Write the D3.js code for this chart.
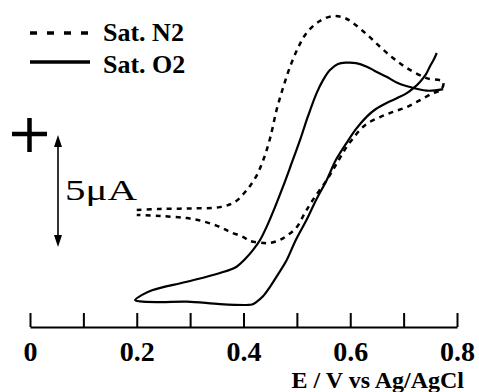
<!DOCTYPE html>
<html>
<head>
<meta charset="utf-8">
<script src="https://cdn.jsdelivr.net/npm/d3@7"></script>
<style>
  body { margin: 0; background: #fff; }
  svg { display: block; }
</style>
</head>
<body>
<svg id="cv" width="479" height="392"></svg>
<script>
// potential (V vs Ag/AgCl) and current (uA, arbitrary offset)
var n2E = [0.2, 0.244, 0.30, 0.356, 0.384, 0.406, 0.423, 0.437, 0.45, 0.462, 0.474, 0.487, 0.502, 0.518, 0.543, 0.568, 0.59, 0.605, 0.63, 0.656, 0.68, 0.706, 0.743, 0.774,
           0.77, 0.755, 0.731, 0.706, 0.68, 0.656, 0.633, 0.618, 0.603, 0.593, 0.573, 0.556, 0.53, 0.515, 0.5, 0.483, 0.468, 0.45, 0.437, 0.412, 0.399, 0.375, 0.356, 0.328, 0.294, 0.244, 0.2];
var n2I = [4.91, 4.96, 4.98, 5.04, 5.27, 5.80, 6.38, 7.14, 8.13, 9.38, 10.36, 11.29, 12.14, 12.81, 13.35, 13.57, 13.48, 13.26, 12.77, 12.19, 11.70, 11.25, 10.80, 10.63,
           10.27, 10.13, 9.82, 9.51, 9.29, 9.06, 8.79, 8.48, 8.04, 7.72, 6.92, 6.25, 5.36, 4.78, 4.15, 3.79, 3.57, 3.44, 3.44, 3.53, 3.71, 3.93, 4.15, 4.38, 4.55, 4.64, 4.69];

var o2E = [0.774, 0.759, 0.743, 0.712, 0.689, 0.668, 0.646, 0.631, 0.611, 0.593, 0.577, 0.562, 0.549, 0.537, 0.521, 0.506, 0.489, 0.474, 0.459, 0.4435, 0.431, 0.418, 0.403, 0.387, 0.356, 0.294, 0.23, 0.21, 0.197,
           0.206, 0.244, 0.294, 0.356, 0.406, 0.416, 0.425, 0.437, 0.45, 0.465, 0.481, 0.498, 0.518, 0.536, 0.556, 0.573, 0.593, 0.611, 0.631, 0.648, 0.668, 0.688, 0.706, 0.719, 0.731, 0.742, 0.749, 0.757, 0.762];
var o2I = [10.31, 10.25, 10.24, 10.40, 10.58, 10.86, 11.12, 11.31, 11.47, 11.49, 11.43, 11.16, 10.71, 10.13, 9.11, 8.04, 6.92, 5.95, 5.04, 4.17, 3.57, 3.13, 2.72, 2.38, 2.10, 1.71, 1.34, 1.12, 0.89,
           0.83, 0.80, 0.82, 0.71, 0.67, 0.69, 0.82, 1.07, 1.49, 2.05, 2.68, 3.57, 4.46, 5.36, 6.25, 7.14, 7.90, 8.53, 9.08, 9.42, 9.69, 9.91, 10.13, 10.36, 10.64, 10.98, 11.31, 11.65, 11.92];

var xTicks = [0, 0.1, 0.2, 0.3, 0.4, 0.5, 0.6, 0.7, 0.8];
var xTickLabels = ["0", "", "0.2", "", "0.4", "", "0.6", "", "0.8"];
var legendLabels = ["Sat. N2", "Sat. O2"];
var scaleBarTop = 8.26, scaleBarSize = 5;   // uA

var svg = d3.select("#cv");
var serif = "'Liberation Serif', 'DejaVu Serif', serif";

var x = d3.scaleLinear().domain([0, 0.8]).range([30, 457]);
var y = d3.scaleLinear().domain([0, 14]).range([320, 6.4]);

// x axis, ticks pointing up
var axis = svg.append("g")
    .attr("transform", "translate(0,327)")
    .call(d3.axisBottom(x).tickValues(xTicks)
      .tickFormat(function(d, i) { return xTickLabels[i]; })
      .tickSizeInner(-14).tickSizeOuter(0));
axis.select(".domain").attr("stroke", "#000").attr("stroke-width", 2);
axis.selectAll(".tick line").attr("stroke", "#000").attr("stroke-width", 2);
axis.selectAll(".tick text")
    .attr("y", 34).attr("dy", 0)
    .attr("fill", "#000")
    .style("font-family", serif).style("font-weight", "bold").style("font-size", "28px");

svg.append("text")
    .attr("x", 464).attr("y", 388)
    .attr("text-anchor", "end")
    .style("font-family", serif).style("font-weight", "bold").style("font-size", "24px")
    .text("E / V vs Ag/AgCl");

// curves
var line = d3.line()
    .x(function(d) { return x(d[0]); })
    .y(function(d) { return y(d[1]); })
    .curve(d3.curveCatmullRom.alpha(0.5));

svg.append("path")
    .datum(d3.zip(n2E, n2I))
    .attr("d", line)
    .attr("fill", "none").attr("stroke", "#000")
    .attr("stroke-width", 2.5).attr("stroke-dasharray", "5,5");

svg.append("path")
    .datum(d3.zip(o2E, o2I))
    .attr("d", line)
    .attr("fill", "none").attr("stroke", "#000")
    .attr("stroke-width", 2.2);

// legend
var leg = svg.append("g");
leg.append("line").attr("x1", 30).attr("x2", 90).attr("y1", 33).attr("y2", 33)
    .attr("stroke", "#000").attr("stroke-width", 3.5).attr("stroke-dasharray", "7,10");
leg.append("line").attr("x1", 30).attr("x2", 90).attr("y1", 62).attr("y2", 62)
    .attr("stroke", "#000").attr("stroke-width", 3.5);
leg.selectAll("text")
    .data(legendLabels)
  .enter().append("text")
    .attr("x", 103)
    .attr("y", function(d, i) { return 41 + i * 32; })
    .style("font-family", serif).style("font-weight", "bold").style("font-size", "26px")
    .text(function(d) { return d; });

// plus sign
svg.append("path")
    .attr("d", "M12,134H47M29.5,118V152")
    .attr("stroke", "#000").attr("stroke-width", 4.5).attr("fill", "none");

// 5 uA scale bar
var yTop = y(scaleBarTop), yBot = y(scaleBarTop - scaleBarSize), bx = 58;
svg.append("line").attr("x1", bx).attr("x2", bx).attr("y1", yTop + 6).attr("y2", yBot - 6)
    .attr("stroke", "#000").attr("stroke-width", 1.6);
svg.append("path")
    .attr("d", "M" + bx + "," + yTop + "l-4,12h8z M" + bx + "," + yBot + "l-4,-12h8z")
    .attr("fill", "#000");
svg.append("text")
    .attr("x", 65).attr("y", 200)
    .attr("textLength", 72).attr("lengthAdjust", "spacingAndGlyphs")
    .style("font-family", serif).style("font-size", "29px")
    .text("5\u03bcA");
</script>
</body>
</html>
